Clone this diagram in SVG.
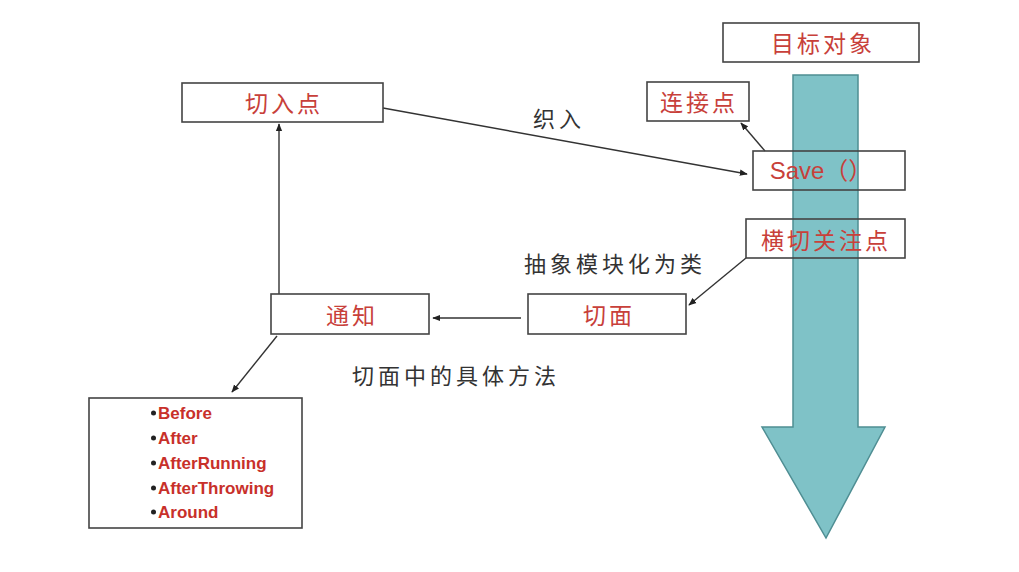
<svg xmlns="http://www.w3.org/2000/svg" width="1019" height="572" viewBox="0 0 1019 572">
<style>
.box{fill:none;stroke:#444;stroke-width:1.6}
.lbl{font-family:"Noto Sans CJK SC","Liberation Sans",sans-serif;font-size:23px;letter-spacing:3px;fill:#c8403a;text-anchor:middle;dominant-baseline:central}
.cap{font-family:"Noto Sans CJK SC","Liberation Sans",sans-serif;font-size:22px;letter-spacing:4px;fill:#333;dominant-baseline:central}
.li{font-family:"Liberation Sans",Arial,sans-serif;font-size:17px;font-weight:bold;fill:#c8302a}
.bul{fill:#222}
.con{fill:none;stroke:#333;stroke-width:1.4;marker-end:url(#ah)}
</style>
<defs>
<marker id="ah" viewBox="0 0 10 10" refX="9" refY="5" markerWidth="8" markerHeight="8" markerUnits="userSpaceOnUse" orient="auto">
<path d="M0,1 L10,5 L0,9 z" fill="#222"/>
</marker>
</defs>
<rect width="1019" height="572" fill="#fff"/>
<g id="big-arrow">
<path d="M793,75 L858,75 L858,427 L885,427 L826,538 L762,427 L793,427 Z" fill="#7fc2c7" stroke="#4f8e93" stroke-width="1.5"/>
</g>
<g id="connectors">
<line class="con" x1="383" y1="108" x2="747" y2="174"/>
<line class="con" x1="765" y1="151" x2="741" y2="123"/>
<line class="con" x1="746" y1="258" x2="689" y2="305"/>
<line class="con" x1="521" y1="318" x2="433" y2="318"/>
<line class="con" x1="279" y1="294" x2="279" y2="124"/>
<line class="con" x1="277" y1="336" x2="232" y2="392"/>
</g>
<g id="label-zhiru"><text class="cap" x="533" y="117">织入</text></g>
<g id="label-chouxiang"><text class="cap" x="524" y="262">抽象模块化为类</text></g>
<g id="label-fangfa"><text class="cap" x="352" y="374">切面中的具体方法</text></g>
<g id="target"><rect class="box" x="723" y="23" width="196" height="39"/><text class="lbl" x="823" y="42">目标对象</text></g>
<g id="joinpoint"><rect class="box" x="647" y="82" width="102" height="39"/><text class="lbl" x="699" y="101">连接点</text></g>
<g id="save"><rect class="box" x="753" y="151" width="152" height="39"/><text class="lbl" x="821" y="170" style="font-family:'Liberation Sans','Noto Sans CJK SC',sans-serif;font-size:24px;letter-spacing:0">Save（）</text></g>
<g id="crosscut"><rect class="box" x="746" y="219" width="159" height="39"/><text class="lbl" x="826" y="239">横切关注点</text></g>
<g id="pointcut"><rect class="box" x="182" y="83" width="201" height="39"/><text class="lbl" x="284" y="102">切入点</text></g>
<g id="advice"><rect class="box" x="271" y="294" width="158" height="40"/><text class="lbl" x="352" y="314">通知</text></g>
<g id="aspect"><rect class="box" x="528" y="294" width="158" height="40"/><text class="lbl" x="609" y="314">切面</text></g>
<g id="advice-types"><rect class="box" x="89" y="398" width="213" height="130"/>
<circle class="bul" cx="153.5" cy="413" r="2.5"/><text class="li" x="158" y="419">Before</text>
<circle class="bul" cx="153.5" cy="438" r="2.5"/><text class="li" x="158" y="444">After</text>
<circle class="bul" cx="153.5" cy="463" r="2.5"/><text class="li" x="158" y="469">AfterRunning</text>
<circle class="bul" cx="153.5" cy="488" r="2.5"/><text class="li" x="158" y="494">AfterThrowing</text>
<circle class="bul" cx="153.5" cy="512" r="2.5"/><text class="li" x="158" y="518">Around</text>
</g>
</svg>
